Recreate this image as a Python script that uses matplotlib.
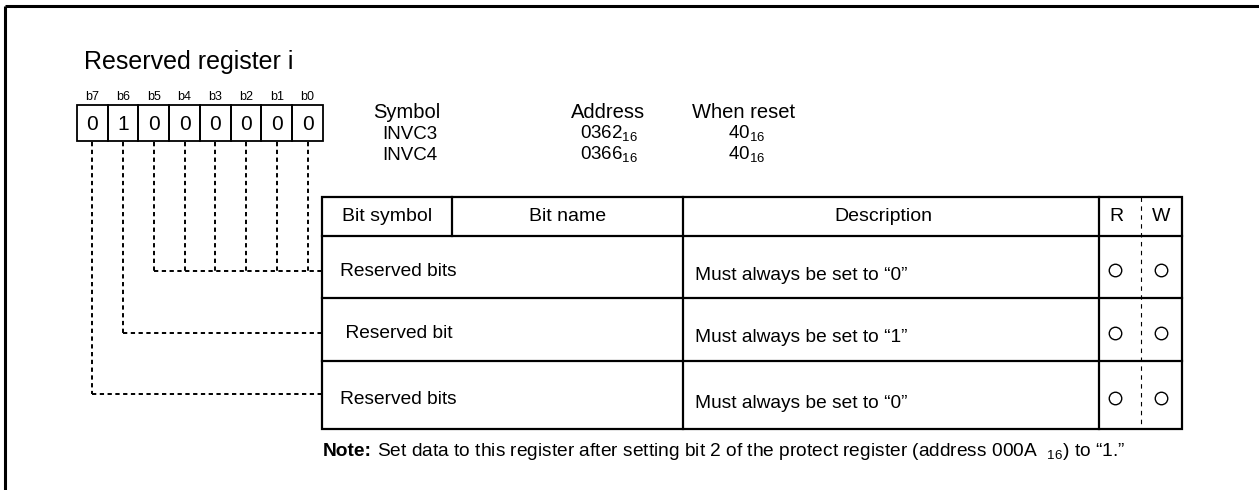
import matplotlib
matplotlib.use('Agg')
import matplotlib.pyplot as plt

# register data
bit_labels = ['b7', 'b6', 'b5', 'b4', 'b3', 'b2', 'b1', 'b0']
reset_bits = [0, 1, 0, 0, 0, 0, 0, 0]
symbols = ['INVC3', 'INVC4']
addresses = ['0362', '0366']
reset_values = ['40', '40']

header = ['Bit symbol', 'Bit name', 'Description', 'R', 'W']
row_names = ['Reserved bits', ' Reserved bit', 'Reserved bits']
row_desc = ['Must always be set to \u201c0\u201d',
            'Must always be set to \u201c1\u201d',
            'Must always be set to \u201c0\u201d']
row_bits = [[5, 4, 3, 2, 1, 0], [6], [7]]   # which bits feed each row
readable = [True, True, True]
writable = [True, True, True]

plt.rcParams['font.family'] = ['Liberation Sans', 'DejaVu Sans']
plt.rcParams['mathtext.fontset'] = 'custom'
plt.rcParams['mathtext.rm'] = 'Liberation Sans'

W, H = 1259, 490
fig = plt.figure(figsize=(W / 100, H / 100), dpi=100)
ax = fig.add_axes([0, 0, 1, 1])
ax.set_xlim(0, W)
ax.set_ylim(H, 0)
ax.axis('off')

# outer frame (left + top only)
ax.plot([5, 5], [6, H], color='black', lw=2.2, solid_capstyle='butt')
ax.plot([5, W], [6, 6], color='black', lw=2.2, solid_capstyle='butt')

ax.text(84, 62, 'Reserved register i', fontsize=18, ha='left', va='center')

# bit boxes
box_l, box_t, box_b, cell_w = 77, 105, 141, 30.75
dash = (0, (2.2, 1.8))
def bit_x(b):
    return box_l + (7 - b) * cell_w + cell_w / 2

for i, (lab, v) in enumerate(zip(bit_labels, reset_bits)):
    x0 = box_l + i * cell_w
    ax.add_patch(plt.Rectangle((x0, box_t), cell_w, box_b - box_t,
                               fill=False, lw=1.3, ec='black'))
    ax.text(x0 + cell_w / 2, 97, lab, fontsize=9, ha='center', va='center')
    ax.text(x0 + cell_w / 2, box_t + (box_b - box_t) / 2 + 1, str(v),
            fontsize=15, ha='center', va='center')

# table geometry
tl, tr, tt = 322, 1182, 197
row_edges = [236, 298, 361, 429]
c_sym, c_desc, c_r, c_w = 452, 683, 1099, 1141
conn_y = [271, 333, 394]
name_x = [340, 340, 340]

# dashed connectors
for bits, y in zip(row_bits, conn_y):
    for b in bits:
        ax.plot([bit_x(b), bit_x(b)], [box_b + 1, y], color='black', lw=1.4,
                linestyle=dash)
    ax.plot([bit_x(max(bits)), tl], [y, y], color='black', lw=1.4, linestyle=dash)

# symbol / address / reset
ax.text(407, 112, 'Symbol', fontsize=14.5, ha='center', va='center')
ax.text(608, 112, 'Address', fontsize=14.5, ha='center', va='center')
ax.text(744, 112, 'When reset', fontsize=14.5, ha='center', va='center')
for k, (s, a, r) in enumerate(zip(symbols, addresses, reset_values)):
    y = 134 + k * 21
    ax.text(410, y, s, fontsize=13.5, ha='center', va='center')
    ax.text(609, y, a + r'$_{\mathregular{16}}$', fontsize=13.5, ha='center', va='center')
    ax.text(747, y, r + r'$_{\mathregular{16}}$', fontsize=13.5, ha='center', va='center')

# table frame
lw = 1.6
ax.add_patch(plt.Rectangle((tl, tt), tr - tl, row_edges[-1] - tt, fill=False,
                           lw=lw, ec='black'))
for y in row_edges[:-1]:
    ax.plot([tl, tr], [y, y], color='black', lw=lw)
ax.plot([c_sym, c_sym], [tt, row_edges[0]], color='black', lw=lw)
ax.plot([c_desc, c_desc], [tt, row_edges[-1]], color='black', lw=lw)
ax.plot([c_r, c_r], [tt, row_edges[-1]], color='black', lw=lw)
ax.plot([c_w, c_w], [tt, row_edges[-1]], color='black', lw=0.8,
        linestyle=(0, (4, 4)))

hy = (tt + row_edges[0]) / 2
hx = [(tl + c_sym) / 2, (c_sym + c_desc) / 2, (c_desc + c_r) / 2 - 8,
      (c_r + c_w) / 2 - 4, (c_w + tr) / 2]
for x, t in zip(hx, header):
    ax.text(x, hy, t, fontsize=14, ha='center', va='center')

for k in range(len(row_names)):
    y0, y1 = row_edges[k], row_edges[k + 1]
    yc = (y0 + y1) / 2
    ax.text(name_x[k], yc + 4, row_names[k], fontsize=13.8, ha='left', va='center')
    ax.text(695, yc + 8, row_desc[k], fontsize=13.8, ha='left', va='center')
    if readable[k]:
        ax.plot((c_r + c_w) / 2 - 5, yc + 3, 'o', ms=9, mfc='none', mec='black', mew=1)
    if writable[k]:
        ax.plot((c_w + tr) / 2, yc + 3, 'o', ms=9, mfc='none', mec='black', mew=1)

# note line
note = ax.text(323, 451, 'Note:', fontsize=13.8, fontweight='bold', ha='left', va='center')
fig.canvas.draw()
ext = note.get_window_extent()
ax.text(ext.x1 + 5, 451,
        'Set data to this register after setting bit 2 of the protect register '
        '(address 000A  $_{\\mathregular{16}}$) to \u201c1.\u201d',
        fontsize=13.8, ha='left', va='center')

plt.savefig('out.png', dpi=100)
